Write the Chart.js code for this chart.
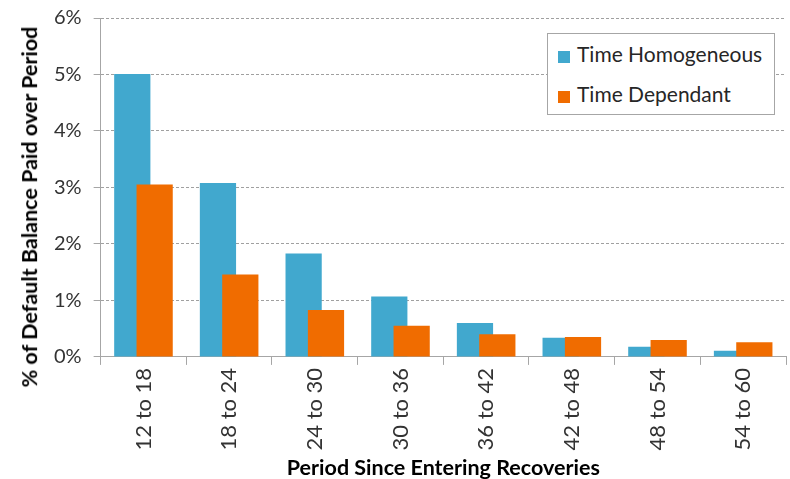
<!DOCTYPE html>
<html>
<head>
<meta charset="utf-8">
<script src="https://cdn.jsdelivr.net/npm/chart.js@4/dist/chart.umd.min.js"></script>
<style>
  html, body { margin: 0; padding: 0; background: #fff; }
  #wrap { position: relative; width: 790px; height: 479px; }
  #legend {
    position: absolute; left: 547px; top: 33px; width: 228px; height: 82px;
    border: 1px solid #A6A6A6; background: #fff; box-sizing: border-box;
    font-family: Lato, "Open Sans", sans-serif; font-size: 21px; color: #262626;
  }
  .row { position: absolute; left: 10px; height: 24px; line-height: 24px; white-space: nowrap; }
  .sw { display: inline-block; width: 12px; height: 12px; margin-right: 7px; vertical-align: -1px; }
  #ytitle {
    position: absolute; left: 30px; top: 207px; white-space: nowrap;
    transform: translate(-50%, -50%) rotate(-90deg);
    font-family: Lato, "Open Sans", sans-serif; font-size: 21.5px; font-weight: bold; color: #000;
    line-height: 1.2;
  }
</style>
</head>
<body>
<div id="wrap">
  <canvas id="c"></canvas>
  <div id="legend"></div>
  <div id="ytitle"></div>
</div>
<script>
const categories = ["12 to 18", "18 to 24", "24 to 30", "30 to 36", "36 to 42", "42 to 48", "48 to 54", "54 to 60"];
const timeHomogeneous = [5.01, 3.08, 1.83, 1.07, 0.60, 0.34, 0.18, 0.11];
const timeDependant = [3.05, 1.46, 0.83, 0.55, 0.40, 0.35, 0.30, 0.26];
const seriesNames = ["Time Homogeneous", "Time Dependant"];
const seriesColors = ["#41A8CE", "#F06C00"];
const yTickValues = [0, 1, 2, 3, 4, 5, 6];
const yTitle = "% of Default Balance Paid over Period";
const xTitle = "Period Since Entering Recoveries";

const FONT = 'Lato, "Open Sans", sans-serif';
const TEXT = '#333333';
const AXIS = '#A6A6A6';

// draw dataset 0 first so the second series sits on top of the overlap
const drawOrder = {
  id: 'drawOrder',
  beforeDatasetsDraw(chart) {
    chart.data.datasets.forEach((ds, i) => {
      const meta = chart.getDatasetMeta(i);
      if (chart.isDatasetVisible(i)) meta.controller.draw();
    });
    return false;
  }
};

const chart = new Chart(document.getElementById('c'), {
  type: 'bar',
  data: {
    labels: categories,
    datasets: [
      { label: seriesNames[0], data: timeHomogeneous, backgroundColor: seriesColors[0] },
      { label: seriesNames[1], data: timeDependant, backgroundColor: seriesColors[1] }
    ]
  },
  options: {
    responsive: true,
    maintainAspectRatio: false,
    animation: false,
    categoryPercentage: 0.522,
    barPercentage: 1.62,
    layout: { padding: { left: 42, right: 4, top: 0, bottom: 0 } },
    plugins: { legend: { display: false }, tooltip: { enabled: false } },
    scales: {
      x: {
        grid: { display: true, drawOnChartArea: false, drawTicks: true, tickLength: 8, color: AXIS, offset: true },
        border: { display: true, color: AXIS, width: 1 },
        ticks: { color: TEXT, font: { family: FONT, size: 22 }, minRotation: 90, maxRotation: 90, padding: 3, autoSkip: false },
        title: { display: true, text: xTitle, color: '#000', font: { family: FONT, size: 21.5, weight: 'bold', lineHeight: 1 }, padding: { top: 4, bottom: 0 } }
      },
      y: {
        min: 0, max: 6,
        afterBuildTicks(scale) { scale.ticks = yTickValues.map(v => ({ value: v })); },
        afterFit(scale) { scale.paddingTop = 18; },
        grid: { color: '#A0A0A0', lineWidth: 1, tickLength: 7, tickColor: AXIS, tickBorderDash: [] },
        border: { display: true, color: AXIS, width: 1, dash: [3, 2] },
        ticks: { color: TEXT, font: { family: FONT, size: 20 }, padding: 12, callback: v => v + '%' },
        title: { display: false }
      }
    }
  },
  plugins: [drawOrder]
});

document.getElementById('ytitle').textContent = yTitle;

const legend = document.getElementById('legend');
seriesNames.forEach((name, i) => {
  const row = document.createElement('div');
  row.className = 'row';
  row.style.top = (8 + i * 40) + 'px';
  row.innerHTML = '<span class="sw" style="background:' + seriesColors[i] + '"></span>' + name;
  legend.appendChild(row);
});
</script>
</body>
</html>
